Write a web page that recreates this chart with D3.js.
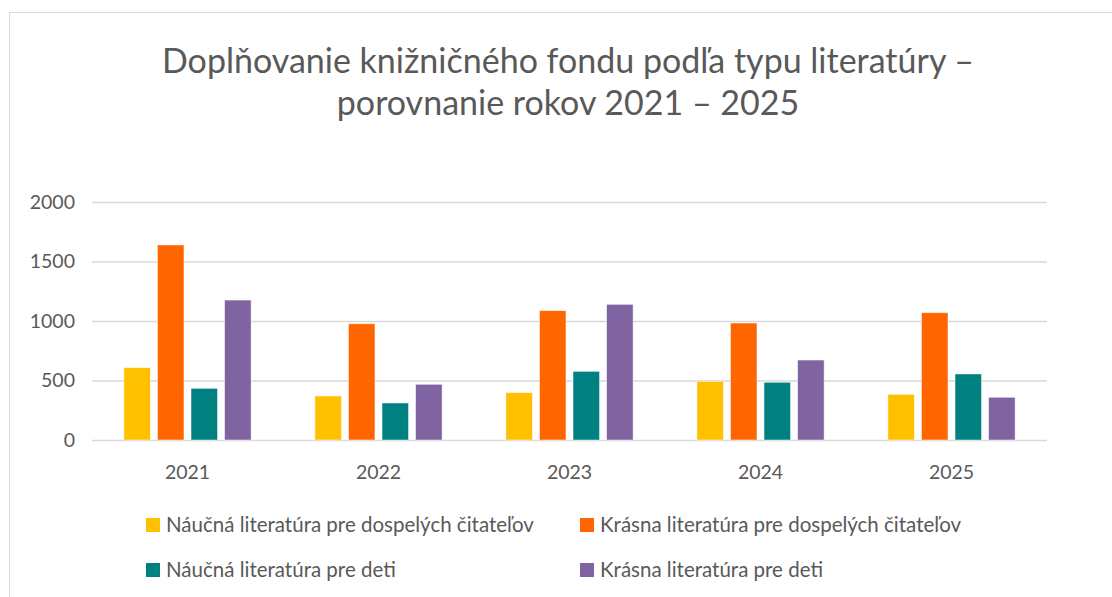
<!DOCTYPE html>
<html>
<head>
<meta charset="utf-8">
<script src="https://cdn.jsdelivr.net/npm/d3@7"></script>
<style>
  body { margin: 0; background: #fff; }
  svg text { font-family: Lato, "Open Sans", sans-serif; fill: #595959; }
</style>
</head>
<body>
<div id="chart"></div>
<script>
// data
var years = ["2021", "2022", "2023", "2024", "2025"];
var seriesNames = [
  "Náučná literatúra pre dospelých čitateľov",
  "Krásna literatúra pre dospelých čitateľov",
  "Náučná literatúra pre deti",
  "Krásna literatúra pre deti"
];
var naucnaDospeli = [608, 370, 398, 493, 384];
var krasnaDospeli = [1639, 977, 1087, 983, 1070];
var naucnaDeti    = [434, 311, 577, 485, 555];
var krasnaDeti    = [1176, 468, 1140, 672, 359];
var yTicks = [0, 500, 1000, 1500, 2000];
var colors = ["#FFC000", "#FF6600", "#008080", "#8064A2"];
var titleLines = ["Doplňovanie knižničného fondu podľa typu literatúry –", "porovnanie rokov 2021 – 2025"];

var values = [naucnaDospeli, krasnaDospeli, naucnaDeti, krasnaDeti];

var W = 1112, H = 597;
var margin = {top: 202, right: 65, bottom: 157, left: 92};
var width = W - margin.left - margin.right;
var height = H - margin.top - margin.bottom;

var svg = d3.select("#chart").append("svg")
  .attr("width", W).attr("height", H);

// chart frame
svg.append("rect")
  .attr("x", 9.5).attr("y", 12.5)
  .attr("width", 1200).attr("height", 800)
  .attr("fill", "none").attr("stroke", "#d9d9d9");

// title
var title = svg.append("text")
  .attr("text-anchor", "middle")
  .style("font-size", "34px");
title.selectAll("tspan").data(titleLines).enter().append("tspan")
  .attr("x", 568)
  .attr("y", function(d, i) { return 73 + i * 42; })
  .text(function(d) { return d; });

var x = d3.scaleBand().domain(years).range([0, width]).paddingInner(0).paddingOuter(0);
var x1 = d3.scaleBand().domain(d3.range(4)).range([0, x.bandwidth()]).paddingInner(0.21).paddingOuter(0.95);
var y = d3.scaleLinear().domain([0, 2000]).range([height, 0]);

var g = svg.append("g").attr("transform", "translate(" + margin.left + "," + margin.top + ")");

// gridlines
var grid = d3.axisLeft(y).tickValues(yTicks).tickSize(-width).tickFormat("");
g.append("g").call(grid)
  .call(function(s) {
    s.select(".domain").remove();
    s.selectAll("line").attr("stroke", "#d9d9d9").attr("stroke-width", 1.3);
  });

// y axis labels
var axisY = d3.axisLeft(y).tickValues(yTicks).tickSize(0).tickPadding(17).tickFormat(d3.format("d"));
g.append("g").call(axisY)
  .call(function(s) {
    s.select(".domain").remove();
    s.selectAll("text").style("font-size", "19.5px").attr("fill", "#595959");
  });

// bars
var groups = g.selectAll(".year").data(years).enter().append("g")
  .attr("transform", function(d) { return "translate(" + x(d) + ",0)"; });
groups.selectAll("rect")
  .data(function(d, i) { return values.map(function(v, k) { return {k: k, v: v[i]}; }); })
  .enter().append("rect")
  .attr("x", function(d) { return x1(d.k); })
  .attr("width", x1.bandwidth())
  .attr("y", function(d) { return y(d.v); })
  .attr("height", function(d) { return height - y(d.v); })
  .attr("fill", function(d) { return colors[d.k]; })
  .attr("stroke", "#ffffff").attr("stroke-opacity", 0.6).attr("stroke-width", 0.8);

// x axis labels
var axisX = d3.axisBottom(x).tickSize(0).tickPadding(25);
g.append("g").attr("transform", "translate(0," + height + ")").call(axisX)
  .call(function(s) {
    s.select(".domain").remove();
    s.selectAll("text").style("font-size", "19.5px").attr("fill", "#595959");
  });

// legend
var legendPos = [[146, 525], [580, 525], [146, 570], [580, 570]];
var legend = svg.selectAll(".legend").data(seriesNames).enter().append("g")
  .attr("transform", function(d, i) { return "translate(" + legendPos[i][0] + "," + legendPos[i][1] + ")"; });
legend.append("rect")
  .attr("x", 0).attr("y", -7).attr("width", 14).attr("height", 14)
  .attr("fill", function(d, i) { return colors[i]; });
legend.append("text")
  .attr("x", 20).attr("dy", "0.36em")
  .style("font-size", "20.5px")
  .text(function(d) { return d; });
</script>
</body>
</html>
